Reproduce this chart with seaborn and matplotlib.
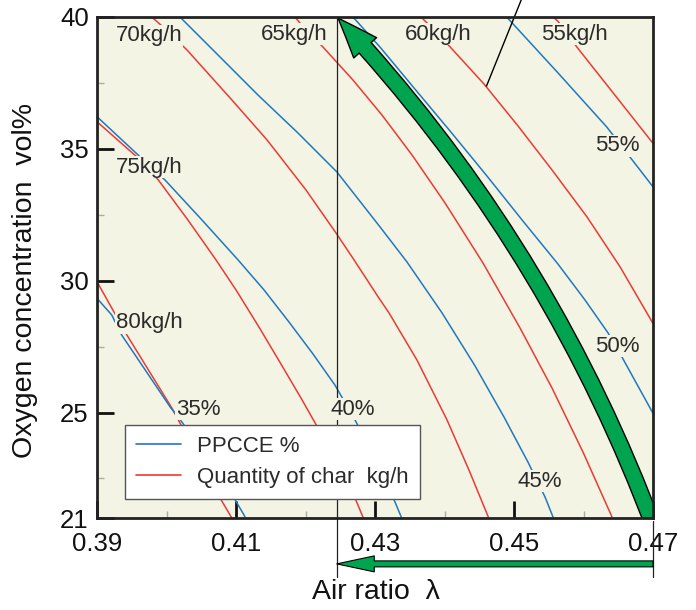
import matplotlib
matplotlib.use("Agg")
import matplotlib.pyplot as plt
import pandas as pd
import seaborn as sns
from matplotlib.patches import FancyArrowPatch
from matplotlib.lines import Line2D

# ---------------- data ----------------
# Quantity of char contours (kg/h)
char80_x = [0.3900, 0.3943, 0.4008, 0.4077, 0.4094]
char80_y = [29.96, 27.94, 25.16, 21.76, 21.00]
char75_x = [0.3900, 0.39571, 0.39882, 0.40309, 0.40712, 0.41000, 0.41331, 0.41647,
            0.41935, 0.42180, 0.42468, 0.42712, 0.42832]
char75_y = [36.03, 34.70, 33.82, 32.30, 30.79, 29.65, 28.24, 26.84,
            25.55, 24.41, 23.01, 21.76, 21.00]
char70_x = [0.39787, 0.39935, 0.40295, 0.40942, 0.41446, 0.42007, 0.42439, 0.42698,
            0.43057, 0.43201, 0.43604, 0.44036, 0.44352, 0.44630]
char70_y = [40.00, 39.66, 38.75, 36.85, 35.34, 33.44, 31.81, 30.79,
            29.34, 28.78, 26.99, 24.72, 22.82, 21.04]
char65_x = [0.41849, 0.41921, 0.42252, 0.42683, 0.43101, 0.43532, 0.44007, 0.44554,
            0.45086, 0.45547, 0.45993, 0.46410]
char65_y = [40.00, 39.77, 38.86, 37.61, 36.28, 34.77, 32.95, 30.67,
            28.21, 25.93, 23.50, 21.04]
char60_x = [0.43662, 0.43777, 0.44079, 0.44568, 0.45057, 0.45547, 0.46050, 0.46525, 0.47000]
char60_y = [40.00, 39.70, 38.87, 37.46, 35.87, 34.20, 32.42, 30.53, 28.38]
char55_x = [0.45566, 0.45638, 0.45902, 0.47000]
char55_y = [40.00, 39.82, 38.87, 35.21]

# PPCCE contours (%)
ppcce35_x = [0.3900, 0.39212, 0.39355, 0.40050, 0.40219, 0.40961, 0.41129]
ppcce35_y = [29.33, 28.70, 27.94, 25.22, 24.65, 21.81, 21.05]
ppcce40_x = [0.3900, 0.39619, 0.39978, 0.40511, 0.41029, 0.41403, 0.41763, 0.42108,
             0.42424, 0.42712, 0.43000, 0.43263, 0.43384]
ppcce40_y = [36.22, 34.70, 33.82, 32.30, 30.79, 29.65, 28.43, 27.22,
             26.04, 24.72, 23.28, 21.76, 21.00]
ppcce45_x = [0.40194, 0.40741, 0.41317, 0.41892, 0.42453, 0.43072, 0.43460, 0.43964,
             0.44439, 0.44856, 0.45201, 0.45446, 0.45561]
ppcce45_y = [40.00, 38.56, 37.04, 35.60, 34.12, 32.04, 30.71, 28.78,
             26.77, 24.83, 23.12, 21.80, 21.04]
ppcce50_x = [0.42683, 0.43072, 0.43561, 0.44079, 0.44611, 0.45129, 0.45633, 0.46021,
             0.46353, 0.46550, 0.47000]
ppcce50_y = [40.00, 38.86, 37.31, 35.68, 33.97, 32.26, 30.63, 29.27,
             28.02, 27.12, 24.97]
ppcce55_x = [0.44895, 0.45633, 0.46334, 0.47000]
ppcce55_y = [40.00, 37.88, 35.83, 33.56]

char_labels = ["80kg/h", "75kg/h", "70kg/h", "65kg/h", "60kg/h", "55kg/h"]
ppcce_labels = ["35%", "40%", "45%", "50%", "55%"]

x_ticks = [0.39, 0.41, 0.43, 0.45, 0.47]
x_tick_labels = ["0.39", "0.41", "0.43", "0.45", "0.47"]
x_minor = [0.40, 0.42, 0.44, 0.46]
y_ticks = [21, 25, 30, 35, 40]
y_tick_labels = ["21", "25", "30", "35", "40"]
y_minor = [22.5, 27.5, 32.5, 37.5]

lambda_start = 0.47     # operating path (green arrow)
lambda_end = 0.4245

# ---------------- style ----------------
sns.set_style("ticks")
plt.rcParams['font.family'] = ['Liberation Sans', 'DejaVu Sans']

BG = '#f4f4e4'
BLUE = '#1f78c1'
RED = '#ea3a35'
GREEN = '#00a44f'
TXT = '#2b2b2b'

fig = plt.figure(figsize=(6.96, 6.10), dpi=100)
ax = fig.add_axes([97/696, 1 - 518/610, 556/696, 501/610])
ax.set_facecolor(BG)

series = [
    ("c80", "char", char80_x, char80_y), ("c75", "char", char75_x, char75_y),
    ("c70", "char", char70_x, char70_y), ("c65", "char", char65_x, char65_y),
    ("c60", "char", char60_x, char60_y), ("c55", "char", char55_x, char55_y),
    ("p35", "ppcce", ppcce35_x, ppcce35_y), ("p40", "ppcce", ppcce40_x, ppcce40_y),
    ("p45", "ppcce", ppcce45_x, ppcce45_y), ("p50", "ppcce", ppcce50_x, ppcce50_y),
    ("p55", "ppcce", ppcce55_x, ppcce55_y),
]
rows = []
for name, kind, xs, ys in series:
    for i, (x, y) in enumerate(zip(xs, ys)):
        rows.append({"line": name, "kind": kind, "x": x, "y": y, "order": i})
df = pd.DataFrame(rows)

sns.lineplot(data=df, x="x", y="y", hue="kind", units="line", estimator=None,
             sort=False, palette={"char": RED, "ppcce": BLUE}, linewidth=1.1,
             legend=False, ax=ax, zorder=2)

ax.set_xlim(0.39, 0.47)
ax.set_ylim(21, 40)
ax.set_xlabel("")
ax.set_ylabel("")

ax.set_xticks(x_ticks)
ax.set_xticklabels(x_tick_labels)
ax.set_xticks(x_minor, minor=True)
ax.set_yticks(y_ticks)
ax.set_yticklabels(y_tick_labels)
ax.set_yticks(y_minor, minor=True)
ax.tick_params(which='major', direction='in', length=12, width=2, color='#111',
               labelsize=18.5, labelcolor='#111')
ax.tick_params(axis='x', which='major', pad=10)
ax.tick_params(axis='y', which='major', pad=6)
ax.tick_params(which='minor', direction='in', length=5, width=1, color='#aaaaaa')
for s in ax.spines.values():
    s.set_linewidth(2)
    s.set_color('#222')
    s.set_zorder(6)

# contour labels (with background box -> gap in line)
char_label_pos = [(0.39748, 28.40), (0.39748, 34.31), (0.39748, 39.28),
                  (0.41835, 39.355), (0.43906, 39.355), (0.45863, 39.355)]
ppcce_label_pos = [(0.40453, 25.13), (0.42683, 25.13), (0.45374, 22.40),
                   (0.46482, 27.52), (0.46482, 35.11)]
for lab, (x, y) in zip(char_labels + ppcce_labels, char_label_pos + ppcce_label_pos):
    ax.text(x, y, lab, ha='center', va='center', fontsize=16, color=TXT,
            bbox=dict(fc=BG, ec='none', pad=0.6), zorder=4)

# vertical reference lines
ax.plot([lambda_end, lambda_end], [40, 18.76], color='#222', lw=0.9,
        clip_on=False, zorder=3)
ax.plot([lambda_start, lambda_start], [20.9, 18.76], color='#222', lw=0.9,
        clip_on=False, zorder=3)

# pointer line to top
ax.plot([0.44604, 0.45158], [37.38, 41.0], color='black', lw=1.0,
        clip_on=False, zorder=3)

# big curved green arrow inside plot
big = FancyArrowPatch((0.47029, 20.545), (0.42468, 39.96),
                      connectionstyle="arc3,rad=0.1",
                      arrowstyle="simple,head_length=29,head_width=22,tail_width=11.5",
                      fc=GREEN, ec='black', lw=1.0, shrinkA=0, shrinkB=0,
                      mutation_scale=1, zorder=3)
ax.add_patch(big)

# horizontal green arrow below axis
hor = FancyArrowPatch((lambda_start, 19.26), (lambda_end, 19.26),
                      arrowstyle="simple,head_length=27,head_width=11.5,tail_width=4.3",
                      fc=GREEN, ec='black', lw=0.8, shrinkA=0, shrinkB=0,
                      mutation_scale=1, zorder=3)
ax.add_patch(hor)
hor.set_clip_on(False)

# legend
handles = [Line2D([0], [0], color=BLUE, lw=1.2), Line2D([0], [0], color=RED, lw=1.2)]
leg = ax.legend(handles, ["PPCCE %", "Quantity of char  kg/h"], loc='upper left',
                bbox_to_anchor=(0.0504, 0.1856), borderaxespad=0, frameon=True,
                fancybox=False, edgecolor='#555555', framealpha=1, fontsize=16,
                handlelength=2.0, handletextpad=0.75, borderpad=0.5, labelspacing=0.45)
leg.get_frame().set_linewidth(1.0)
leg.set_zorder(7)
for t in leg.get_texts():
    t.set_color(TXT)

# axis titles
fig.text(376/696, 1 - 592/610, "Air ratio  \u03bb", ha='center', va='center',
         fontsize=20.5, color='#111')
fig.text(25/696, 1 - 280/610, "Oxygen concentration  vol%", ha='center', va='center',
         rotation=90, fontsize=20.5, color='#111')

fig.savefig("out.png", dpi=100)
